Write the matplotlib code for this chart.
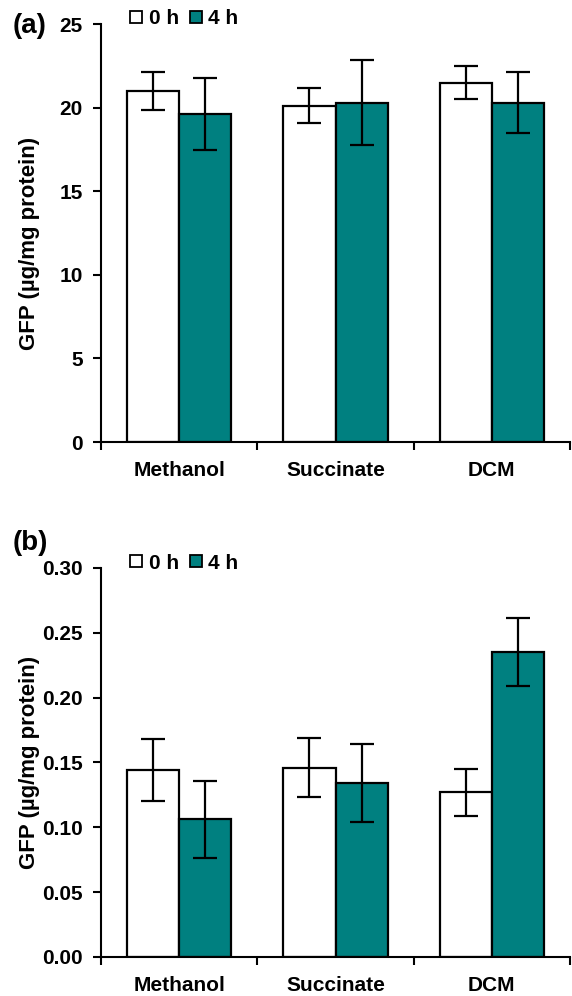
import numpy as np
import matplotlib.pyplot as plt
from matplotlib.lines import Line2D

plt.rcParams['font.family'] = ['Liberation Sans', 'DejaVu Sans']
plt.rcParams['font.weight'] = 'bold'

categories = ["Methanol", "Succinate", "DCM"]
series = ["0 h", "4 h"]

# panel (a)
a_0h = [21.0, 20.1, 21.5]
a_0h_err = [1.15, 1.05, 1.0]
a_4h = [19.6, 20.3, 20.3]
a_4h_err = [2.15, 2.55, 1.8]

# panel (b)
b_0h = [0.144, 0.146, 0.127]
b_0h_err = [0.024, 0.023, 0.018]
b_4h = [0.106, 0.134, 0.235]
b_4h_err = [0.030, 0.030, 0.026]

teal = '#008080'

fig = plt.figure(figsize=(5.72, 9.96), dpi=100)
ax_a = fig.add_axes([0.1766, 0.5562, 0.8199, 0.4197])
ax_b = fig.add_axes([0.1766, 0.0392, 0.8199, 0.3906])


def draw(ax, v0, e0, v4, e4, ylim, yticks, fmt, ylab_y):
    x = np.arange(len(categories))
    w = 1 / 3
    ax.bar(x - w / 2, v0, w, color='white', edgecolor='black', linewidth=1.6, zorder=2)
    ax.bar(x + w / 2, v4, w, color=teal, edgecolor='black', linewidth=1.6, zorder=2)
    ax.errorbar(x - w / 2, v0, yerr=e0, fmt='none', ecolor='black', elinewidth=1.6,
                capsize=8.5, capthick=1.6, zorder=3)
    ax.errorbar(x + w / 2, v4, yerr=e4, fmt='none', ecolor='black', elinewidth=1.6,
                capsize=8.5, capthick=1.6, zorder=3)
    ax.set_xlim(-0.5, len(categories) - 0.5)
    ax.set_ylim(*ylim)
    ax.set_yticks(yticks)
    ax.set_yticklabels([fmt.format(t) for t in yticks], fontsize=15, fontweight='bold')
    ax.set_xticks(np.arange(len(categories) + 1) - 0.5)
    ax.set_xticklabels([])
    ax.set_xticks(x, minor=True)
    ax.set_xticklabels(categories, minor=True, fontsize=15, fontweight='bold')
    ax.tick_params(axis='x', which='major', direction='out', length=6, width=1.5)
    ax.tick_params(axis='x', which='minor', length=0, pad=14)
    ax.tick_params(axis='y', direction='out', length=6, width=1.5, pad=7)
    for s in ['top', 'right']:
        ax.spines[s].set_visible(False)
    for s in ['left', 'bottom']:
        ax.spines[s].set_linewidth(1.5)
    ax.set_ylabel("GFP (µg/mg protein)", fontsize=16, fontweight='bold')
    ax.yaxis.set_label_coords(-0.13, ylab_y)
    handles = [Line2D([], [], marker='s', linestyle='none', markersize=8.6,
                      markerfacecolor=c, markeredgecolor='black', markeredgewidth=1.3)
               for c in ['white', teal]]
    ax.legend(handles, series, ncol=2, frameon=False, loc='center left',
              bbox_to_anchor=(0.062, 1.012), borderaxespad=0, borderpad=0,
              handlelength=0.6, handletextpad=0.3, columnspacing=0.5,
              prop={'size': 15, 'weight': 'bold'})


draw(ax_a, a_0h, a_0h_err, a_4h, a_4h_err, (0, 25), [0, 5, 10, 15, 20, 25], "{:g}", 0.474)
draw(ax_b, b_0h, b_0h_err, b_4h, b_4h_err, (0, 0.30),
     [0, 0.05, 0.10, 0.15, 0.20, 0.25, 0.30], "{:.2f}", 0.5)

fig.text(0.0227, 0.9739, "(a)", fontsize=20, fontweight='bold', ha='left', va='center')
fig.text(0.0227, 0.4548, "(b)", fontsize=20, fontweight='bold', ha='left', va='center')

fig.savefig("out.png", dpi=100)
